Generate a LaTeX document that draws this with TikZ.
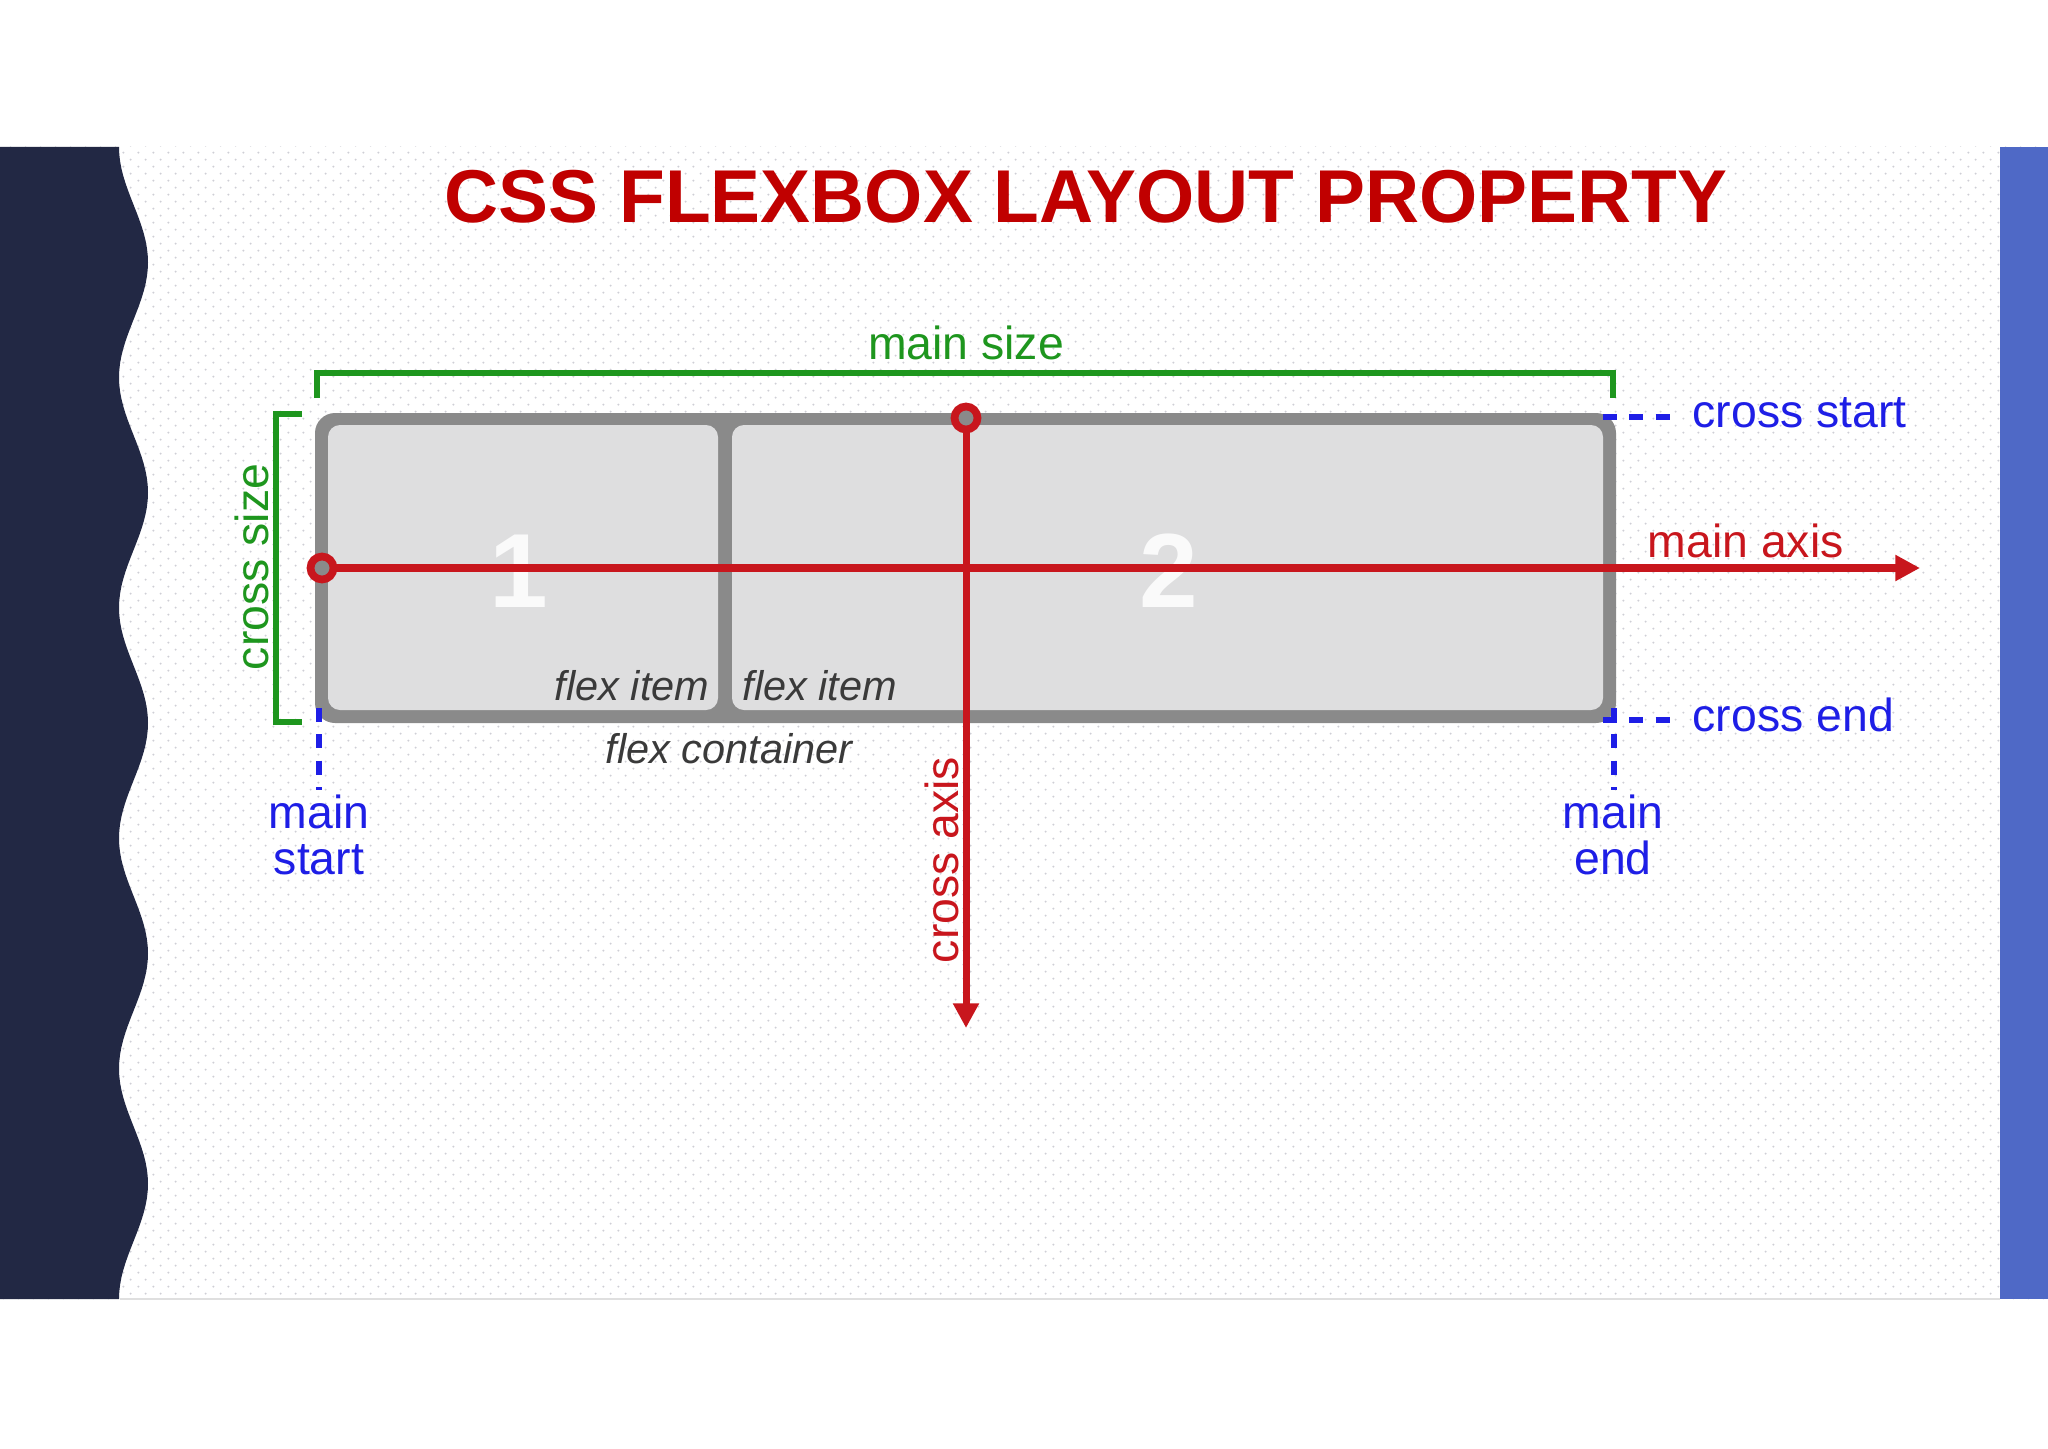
\documentclass[tikz,border=0pt]{standalone}
\usepackage{fontspec}
\setmainfont{Liberation Sans}
\usepackage{tikz}
\usetikzlibrary{positioning,arrows.meta,patterns.meta}

\definecolor{navyband}{HTML}{222844}
\definecolor{blueband}{HTML}{4F69C6}
\definecolor{titlered}{HTML}{C00000}
\definecolor{axisred}{HTML}{C8161D}
\definecolor{sizegreen}{HTML}{1E961E}
\definecolor{edgeblue}{HTML}{1E1EE6}
\definecolor{boxgray}{HTML}{8A8A8A}
\definecolor{itemgray}{HTML}{DEDEDF}
\definecolor{capgray}{HTML}{3A3A3A}
\definecolor{dotgray}{HTML}{CFCFD6}

\tikzdeclarepattern{
  name=slidedots,
  type=uncolored,
  bottom left={(0pt,0pt)},
  top right={(4.18pt,4.12pt)},
  tile size={(4.18pt,4.12pt)},
  code={
    \fill (1pt,1pt) circle (0.32pt);
    \fill (3.09pt,3.06pt) circle (0.32pt);
  }
}

\begin{document}
\begin{tikzpicture}[x=0.1mm,y=-0.1mm,
    axis/.style={draw=axisred, line width=2pt},
    ring/.style={draw=axisred, line width=2.2pt, fill=boxgray},
    bracket/.style={draw=sizegreen, line width=1.5pt},
    guide/.style={draw=edgeblue, line width=1.7pt, dash pattern=on 4pt off 3.5pt},
    lbl/.style={font=\fontsize{13.2}{13.1}\selectfont, inner sep=0pt},
    itemtxt/.style={font=\fontsize{11.8}{12}\selectfont\itshape, text=capgray, inner sep=0pt},
    digit/.style={font=\fontsize{30}{30}\selectfont\bfseries, text=white!96!gray, inner sep=0pt}]
\useasboundingbox (0,0) rectangle (2048,1448);

% slide background
\fill[white] (0,0) rectangle (2048,1448);
\fill[pattern=slidedots, pattern color=dotgray] (0,147) rectangle (2048,1299);
\draw[gray!25, line width=0.4pt] (120,1299) -- (2000,1299);
\fill[navyband] (0,147) -- plot[domain=147:1299, samples=161, variable=\t]
  ({133.5-14.5*cos(1.5625*(\t-147))}, \t) -- (0,1299) -- cycle;
\fill[blueband] (2000,147) rectangle (2048,1299);

% title
\node[font=\fontsize{21.3}{22}\selectfont\bfseries, text=titlered, inner sep=0pt, anchor=base]
  (title) at (1086,222) {CSS FLEXBOX LAYOUT PROPERTY};

% flex container and items
\fill[boxgray, rounded corners=2mm] (315,413) rectangle (1616,723);
\fill[itemgray, rounded corners=1.2mm] (328,425) rectangle (718,710);
\fill[itemgray, rounded corners=1.2mm] (732,425) rectangle (1603,710);
\node[digit, anchor=base] (one) at (519,607) {1};
\node[digit, anchor=base] (two) at (1169,607) {2};
\node[itemtxt, anchor=base east] (item1) at (710,700) {flex item};
\node[itemtxt, anchor=base west] (item2) at (742,700) {flex item};
\node[itemtxt, anchor=base] (cont) at (729,763) {flex container};

% axes
\coordinate (mainstart) at (322,568);
\coordinate (mainend) at (1920,568);
\coordinate (crossstart) at (966,418);
\coordinate (crossend) at (966,1028);
\draw[axis, -{Triangle[length=7pt,width=7pt]}] (mainstart) -- (mainend);
\draw[axis, -{Triangle[length=7pt,width=7pt]}] (crossstart) -- (crossend);
\draw[ring] (mainstart) circle (1.15mm);
\draw[ring] (crossstart) circle (1.15mm);
\node[lbl, text=axisred, anchor=base west] (mainaxis) at (1647,557) {main axis};
\node[lbl, text=axisred, anchor=base, rotate=90] (crossaxis) at (958,860) {cross axis};

% sizes
\draw[bracket] (317,398) |- (1613,373) -- (1613,398);
\draw[bracket] (302,414) -| (276,722) -- (302,722);
\node[lbl, text=sizegreen, anchor=base] (mainsize) at (966,359) {main size};
\node[lbl, text=sizegreen, anchor=base, rotate=90] (crosssize) at (268,567) {cross size};

% start and end marks
\coordinate (cstop) at (1603,417);
\coordinate (cstbot) at (1603,720);
\draw[guide] (cstop) -- ++(74,0);
\draw[guide] (cstbot) -- ++(74,0);
\draw[guide] (319,708) -- (319,790);
\draw[guide] (1614,708) -- (1614,790);
\node[lbl, text=edgeblue, anchor=base west] (crossstartlbl) at (1692,427) {cross start};
\node[lbl, text=edgeblue, anchor=base west] (crossendlbl) at (1692,731) {cross end};
\node[lbl, text=edgeblue, align=center, anchor=north] (mainstartlbl) at (319,794) {main\\start};
\node[lbl, text=edgeblue, align=center, anchor=north] (mainendlbl) at (1613,794) {main\\end};

\end{tikzpicture}
\end{document}
